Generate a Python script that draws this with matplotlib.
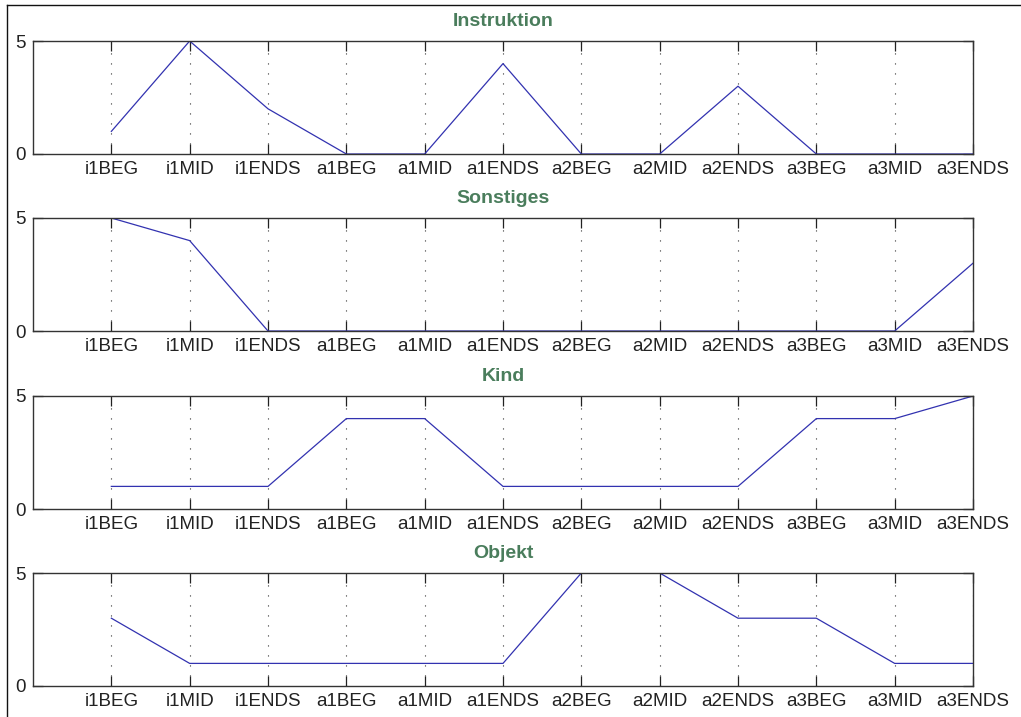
import matplotlib
matplotlib.use("Agg")
import matplotlib.pyplot as plt
from matplotlib.lines import Line2D

# Phase labels along the x axis
phases = ["i1BEG", "i1MID", "i1ENDS", "a1BEG", "a1MID", "a1ENDS",
          "a2BEG", "a2MID", "a2ENDS", "a3BEG", "a3MID", "a3ENDS"]

# Counts per category
instruktion = [1, 5, 2, 0, 0, 4, 0, 0, 3, 0, 0, 0]
sonstiges = [5, 4, 0, 0, 0, 0, 0, 0, 0, 0, 0, 3]
kind = [1, 1, 1, 4, 4, 1, 1, 1, 1, 4, 4, 5]
objekt = [3, 1, 1, 1, 1, 1, 5, 5, 3, 3, 1, 1]

titles = ["Instruktion", "Sonstiges", "Kind", "Objekt"]
series = [instruktion, sonstiges, kind, objekt]

plt.rcParams["font.family"] = ["Liberation Sans", "DejaVu Sans"]

W, H = 1021, 717
fig = plt.figure(figsize=(W / 100, H / 100), dpi=100)
fig.patch.set_facecolor("white")

left, right = 33, 973
tops = [41, 218, 396, 573]
height = 113
xs = list(range(1, len(phases) + 1))

for top, title, vals in zip(tops, titles, series):
    ax = fig.add_axes([left / W, 1 - (top + height) / H,
                       (right - left) / W, height / H])
    ax.plot(xs, vals, color="#3232b0", linewidth=0.9)
    ax.set_xlim(0, 12)
    ax.set_ylim(0, 5)
    ax.set_xticks(xs)
    ax.set_xticklabels(phases)
    ax.set_yticks([0, 5])
    for x in xs:
        ax.axvline(x, color="#333333", linewidth=0.8,
                   linestyle=(0, (1, 8)), zorder=0)
    ax.tick_params(axis="both", direction="in", length=7, width=0.9,
                   labelsize=13.5, colors="#222222", top=True, right=True,
                   pad=5)
    ax.tick_params(axis="y", pad=5)
    for s in ax.spines.values():
        s.set_color("#333333")
        s.set_linewidth(1.0)
    ax.set_title(title, fontsize=14, fontweight="bold",
                 color="#4a7d5c", pad=11)

# Outer frame lines along the top and left edges
fig.add_artist(Line2D([7 / W, 1], [1 - 5 / H, 1 - 5 / H],
                      transform=fig.transFigure, color="#111111",
                      linewidth=1.0))
fig.add_artist(Line2D([7 / W, 7 / W], [0, 1 - 5 / H],
                      transform=fig.transFigure, color="#111111",
                      linewidth=1.0))

fig.savefig("out.png", dpi=100)
